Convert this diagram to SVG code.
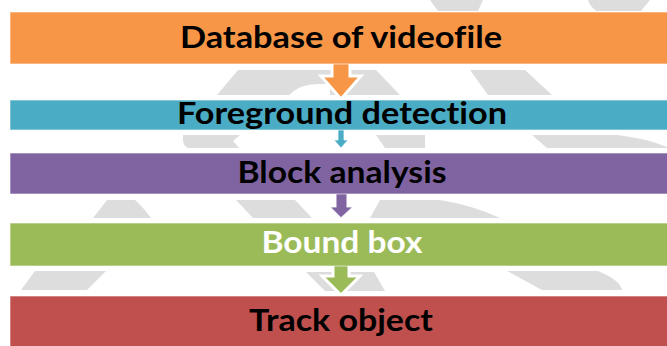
<svg xmlns="http://www.w3.org/2000/svg" width="667" height="346" viewBox="0 0 667 346">
<style>
  .bg{fill:#dddddd}
  .lbl{font-family:Lato,"Liberation Sans",Arial,sans-serif;font-weight:bold;font-size:30px;text-anchor:middle;font-variant-ligatures:none;font-feature-settings:"liga" 0,"clig" 0}
  .bar{stroke:#ffffff;stroke-width:1;stroke-opacity:0.6}
  .arw{stroke:#ffffff;stroke-linejoin:miter}
</style>
<rect width="667" height="346" fill="#ffffff"/>
<g id="background">
  <polygon class="bg" points="430,0 483,0 478,11 438,11"/>
  <path class="bg" d="M588,0 L650,0 L641,11 L596,11 Q590,6 588,0 Z"/>
  <polygon class="bg" points="238,70 376,70 400,95 217,95"/>
  <path d="M289,95 Q300,84 318,84 L330,84 L330,95 Z" fill="#ffffff"/>
  <polygon class="bg" points="470,70 525,70 552,95 488,95"/>
  <path class="bg" d="M183,135 L240,135 L233,141 L239,148 L188,148 Q182,146 183,135 Z"/>
  <polygon class="bg" points="376,135 425,135 425,148 385,148"/>
  <path class="bg" d="M532,135 L617,135 Q645,138 667,147 L667,148 L547,148 Z"/>
  <path class="bg" d="M107,200 L135,200 Q143,207 151,218 L93,218 Z"/>
  <polygon class="bg" points="236,200 295,200 312,218 253,218"/>
  <path class="bg" d="M380,200 L440,200 Q472,205 500,218 L370,218 Z"/>
  <polygon class="bg" points="35,271 106,271 87,290 21,290"/>
  <polygon class="bg" points="306,272 374,272 385,291 325,291"/>
  <path class="bg" d="M507,271 L598,271 Q620,280 622,290 L542,290 Z"/>
</g>
<g id="connectors">
  <g id="arrow1">
    <polygon points="332,64 350,64 350,76 361,76 341,99 321,76 332,76" fill="#f79646"/>
    <polyline class="arw" points="332,64 332,76 321,76 341,99 361,76 350,76 350,64" fill="none" stroke-width="3"/>
  </g>
  <g id="arrow2">
    <polygon points="338,130 344,130 344,140 348,140 341,148 334,140 338,140" fill="#4bacc6"/>
    <polyline class="arw" points="338,130 338,140 334,140 341,148 348,140 344,140 344,130" fill="none" stroke-width="1" stroke-opacity="0.7"/>
  </g>
  <g id="arrow3">
    <polygon points="336,194 347,194 347,207 353,207 341,218 330,207 336,207" fill="#8064a2"/>
    <polyline class="arw" points="336,194 336,207 330,207 341,218 353,207 347,207 347,194" fill="none" stroke-width="1.2" stroke-opacity="0.8"/>
  </g>
  <g id="arrow4">
    <polygon points="333,266 349,266 349,276 360,276 341,295 322,276 333,276" fill="#9bbb59"/>
    <polyline class="arw" points="333,266 333,276 322,276 341,295 360,276 349,276 349,266" fill="none" stroke-width="3"/>
  </g>
</g>
<g id="node-database">
  <rect class="bar" x="10" y="12" width="670" height="52" fill="#f79646"/>
  <text class="lbl" x="341" y="48" textLength="322" lengthAdjust="spacingAndGlyphs" fill="#000000">Database of videofile</text>
</g>
<g id="node-foreground">
  <rect class="bar" x="10" y="100" width="670" height="30" fill="#4bacc6"/>
  <text class="lbl" x="342" y="124" textLength="330" lengthAdjust="spacingAndGlyphs" fill="#000000">Foreground detection</text>
</g>
<g id="node-block">
  <rect class="bar" x="10" y="153" width="670" height="41" fill="#8064a2"/>
  <text class="lbl" x="342" y="183" textLength="209" lengthAdjust="spacingAndGlyphs" fill="#000000">Block analysis</text>
</g>
<g id="node-bound">
  <rect class="bar" x="10" y="223" width="670" height="43" fill="#9bbb59"/>
  <text class="lbl" x="342" y="253" textLength="161" lengthAdjust="spacingAndGlyphs" fill="#ffffff">Bound box</text>
</g>
<g id="node-track">
  <rect class="bar" x="10" y="296" width="670" height="60" fill="#c0504d"/>
  <text class="lbl" x="341" y="331" textLength="184" lengthAdjust="spacingAndGlyphs" fill="#000000">Track object</text>
</g>
</svg>
